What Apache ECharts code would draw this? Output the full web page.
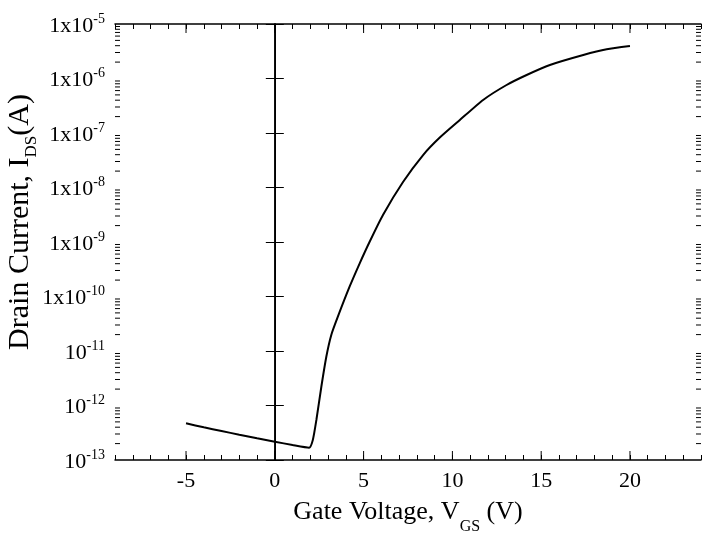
<!DOCTYPE html>
<html>
<head>
    <meta charset="UTF-8">
    <script src="https://cdn.jsdelivr.net/npm/echarts@6/dist/echarts.min.js"></script>
</head>
<body style="margin:0;background-color:#fff;">
    <div id="main" style="width:713px;height:537px"></div>
    <script type="text/javascript">
        // gate voltage (V) and drain current (A)
        var voltage = [-5, -4, -3, -2, -1, 0, 1, 1.93, 2.14, 2.34, 2.62, 2.9, 3.18, 3.55, 4.21, 4.78,
            5.34, 6.09, 7.22, 8.35, 9.29, 10.42, 11.73, 13.05, 14.18, 15.49, 17.37, 18.69, 20];
        var current = [4.71e-13, 3.98e-13, 3.40e-13, 2.91e-13, 2.50e-13, 2.17e-13, 1.88e-13, 1.68e-13,
            2.33e-13, 5.42e-13, 2.21e-12, 7.85e-12, 1.97e-11, 4.26e-11, 1.51e-10, 4.06e-10,
            1.01e-9, 3.13e-9, 1.26e-8, 3.94e-8, 8.24e-8, 1.73e-7, 4.04e-7, 7.60e-7, 1.16e-6,
            1.77e-6, 2.70e-6, 3.44e-6, 3.94e-6];
        var xMin = -9, xMax = 24;
        var yMin = 1e-13, yMax = 1e-5;
        var majorX = [-5, 0, 5, 10, 15, 20];
        var decades = [-13, -12, -11, -10, -9, -8, -7, -6];
        var minorFactors = [2, 3, 4, 5, 6, 7, 8, 9];

        var font = "'Liberation Serif', 'Times New Roman', serif";

        var curve = [];
        for (var i = 0; i < voltage.length; i++) {
            curve.push([voltage[i], current[i]]);
        }

        // log minor ticks on the y axis
        var minorY = [];
        decades.forEach(function (e) {
            minorFactors.forEach(function (f) {
                minorY.push(f * Math.pow(10, e));
            });
        });

        function seg(x1, y1, x2, y2) {
            return {
                type: 'line',
                shape: {x1: x1, y1: y1, x2: x2, y2: y2},
                style: {stroke: '#000', lineWidth: 1}
            };
        }

        function renderTicks(params, api) {
            var cs = params.coordSys;
            var left = cs.x, right = cs.x + cs.width;
            var top = cs.y, bottom = cs.y + cs.height;
            var children = [];
            majorX.forEach(function (v) {
                var px = api.coord([v, yMin])[0];
                children.push(seg(px, bottom, px, bottom - 9));
                children.push(seg(px, top, px, top + 9));
            });
            minorY.forEach(function (v) {
                var py = api.coord([xMin, v])[1];
                children.push(seg(left, py, left + 5, py));
                children.push(seg(right, py, right - 5, py));
            });
            return {type: 'group', children: children};
        }

        function yLabel(v) {
            var e = Math.round(Math.log(v) / Math.LN10);
            if (e >= -10) {
                return '{b|1x10}{sup|' + e + '}';
            }
            return '{b|10}{sup|' + e + '}';
        }

        var myChart = echarts.init(document.getElementById('main'));

        var option = {
            backgroundColor: '#fff',
            animation: false,
            grid: {left: 115, top: 24, right: 12, bottom: 77, outerBoundsMode: 'none', containLabel: false},
            xAxis: [
                {
                    type: 'value',
                    min: xMin,
                    max: xMax,
                    interval: 1,
                    name: '{b|Gate Voltage, V}{sub|GS}{b| (V)}',
                    nameLocation: 'middle',
                    nameGap: 39,
                    nameMoveOverlap: false,
                    nameTextStyle: {
                        color: '#000', fontFamily: font, fontSize: 26,
                        rich: {
                            b: {fontSize: 26, fontFamily: font, color: '#000', lineHeight: 30, verticalAlign: 'top'},
                            sub: {fontSize: 16, fontFamily: font, color: '#000', lineHeight: 16, verticalAlign: 'top', padding: [20, 0, 0, 0]}
                        }
                    },
                    axisLine: {lineStyle: {color: '#000', width: 1.5}},
                    axisTick: {inside: true, length: 5, lineStyle: {color: '#000'}},
                    axisLabel: {
                        color: '#000', fontFamily: font, fontSize: 22, margin: 10,
                        formatter: function (v) { return v % 5 === 0 ? String(v) : ''; }
                    },
                    splitLine: {show: false}
                },
                {
                    type: 'value',
                    position: 'top',
                    min: xMin,
                    max: xMax,
                    interval: 1,
                    axisLine: {lineStyle: {color: '#000', width: 1.5}},
                    axisTick: {inside: true, length: 5, lineStyle: {color: '#000'}},
                    axisLabel: {show: false},
                    splitLine: {show: false}
                }
            ],
            yAxis: [
                {
                    type: 'log',
                    logBase: 10,
                    min: yMin,
                    max: yMax,
                    splitNumber: 8,
                    name: '{b|Drain Current, I}{sub|DS}{b|(A)}',
                    nameLocation: 'middle',
                    nameGap: 76,
                    nameMoveOverlap: false,
                    nameTextStyle: {
                        color: '#000', fontFamily: font, fontSize: 30,
                        padding: [0, 0, 0, 40],
                        rich: {
                            b: {fontSize: 30, fontFamily: font, color: '#000', lineHeight: 34, verticalAlign: 'top'},
                            sub: {fontSize: 17, fontFamily: font, color: '#000', lineHeight: 17, verticalAlign: 'top', padding: [18, 0, 0, 0]}
                        }
                    },
                    axisLine: {show: true, lineStyle: {color: '#000', width: 1.5}},
                    axisTick: {inside: true, length: 9, lineStyle: {color: '#000'}},
                    axisLabel: {
                        margin: 10,
                        formatter: yLabel,
                        rich: {
                            b: {fontFamily: font, fontSize: 22, color: '#000', lineHeight: 26, verticalAlign: 'bottom', padding: [5, 0, 0, 0]},
                            sup: {fontFamily: font, fontSize: 14, color: '#000', lineHeight: 14, verticalAlign: 'top', padding: [1, 0, 0, 0]}
                        }
                    },
                    splitLine: {show: false}
                },
                {
                    type: 'log',
                    logBase: 10,
                    position: 'right',
                    min: yMin,
                    max: yMax,
                    splitNumber: 8,
                    axisLine: {show: true, lineStyle: {color: '#000', width: 1.5}},
                    axisTick: {inside: true, length: 9, lineStyle: {color: '#000'}},
                    axisLabel: {show: false},
                    splitLine: {show: false}
                }
            ],
            series: [
                {
                    name: 'IDS',
                    type: 'line',
                    data: curve,
                    showSymbol: false,
                    symbol: 'none',
                    smooth: 0.2,
                    lineStyle: {color: '#000', width: 2},
                    markLine: {
                        silent: true,
                        symbol: 'none',
                        label: {show: false},
                        lineStyle: {color: '#000', width: 1, type: 'solid'},
                        data: [{xAxis: 0}]
                    }
                },
                {
                    name: 'ticks',
                    type: 'custom',
                    silent: true,
                    clip: false,
                    renderItem: renderTicks,
                    data: [[0, 1e-9]]
                }
            ]
        };

        myChart.setOption(option);
    </script>
</body>
</html>
